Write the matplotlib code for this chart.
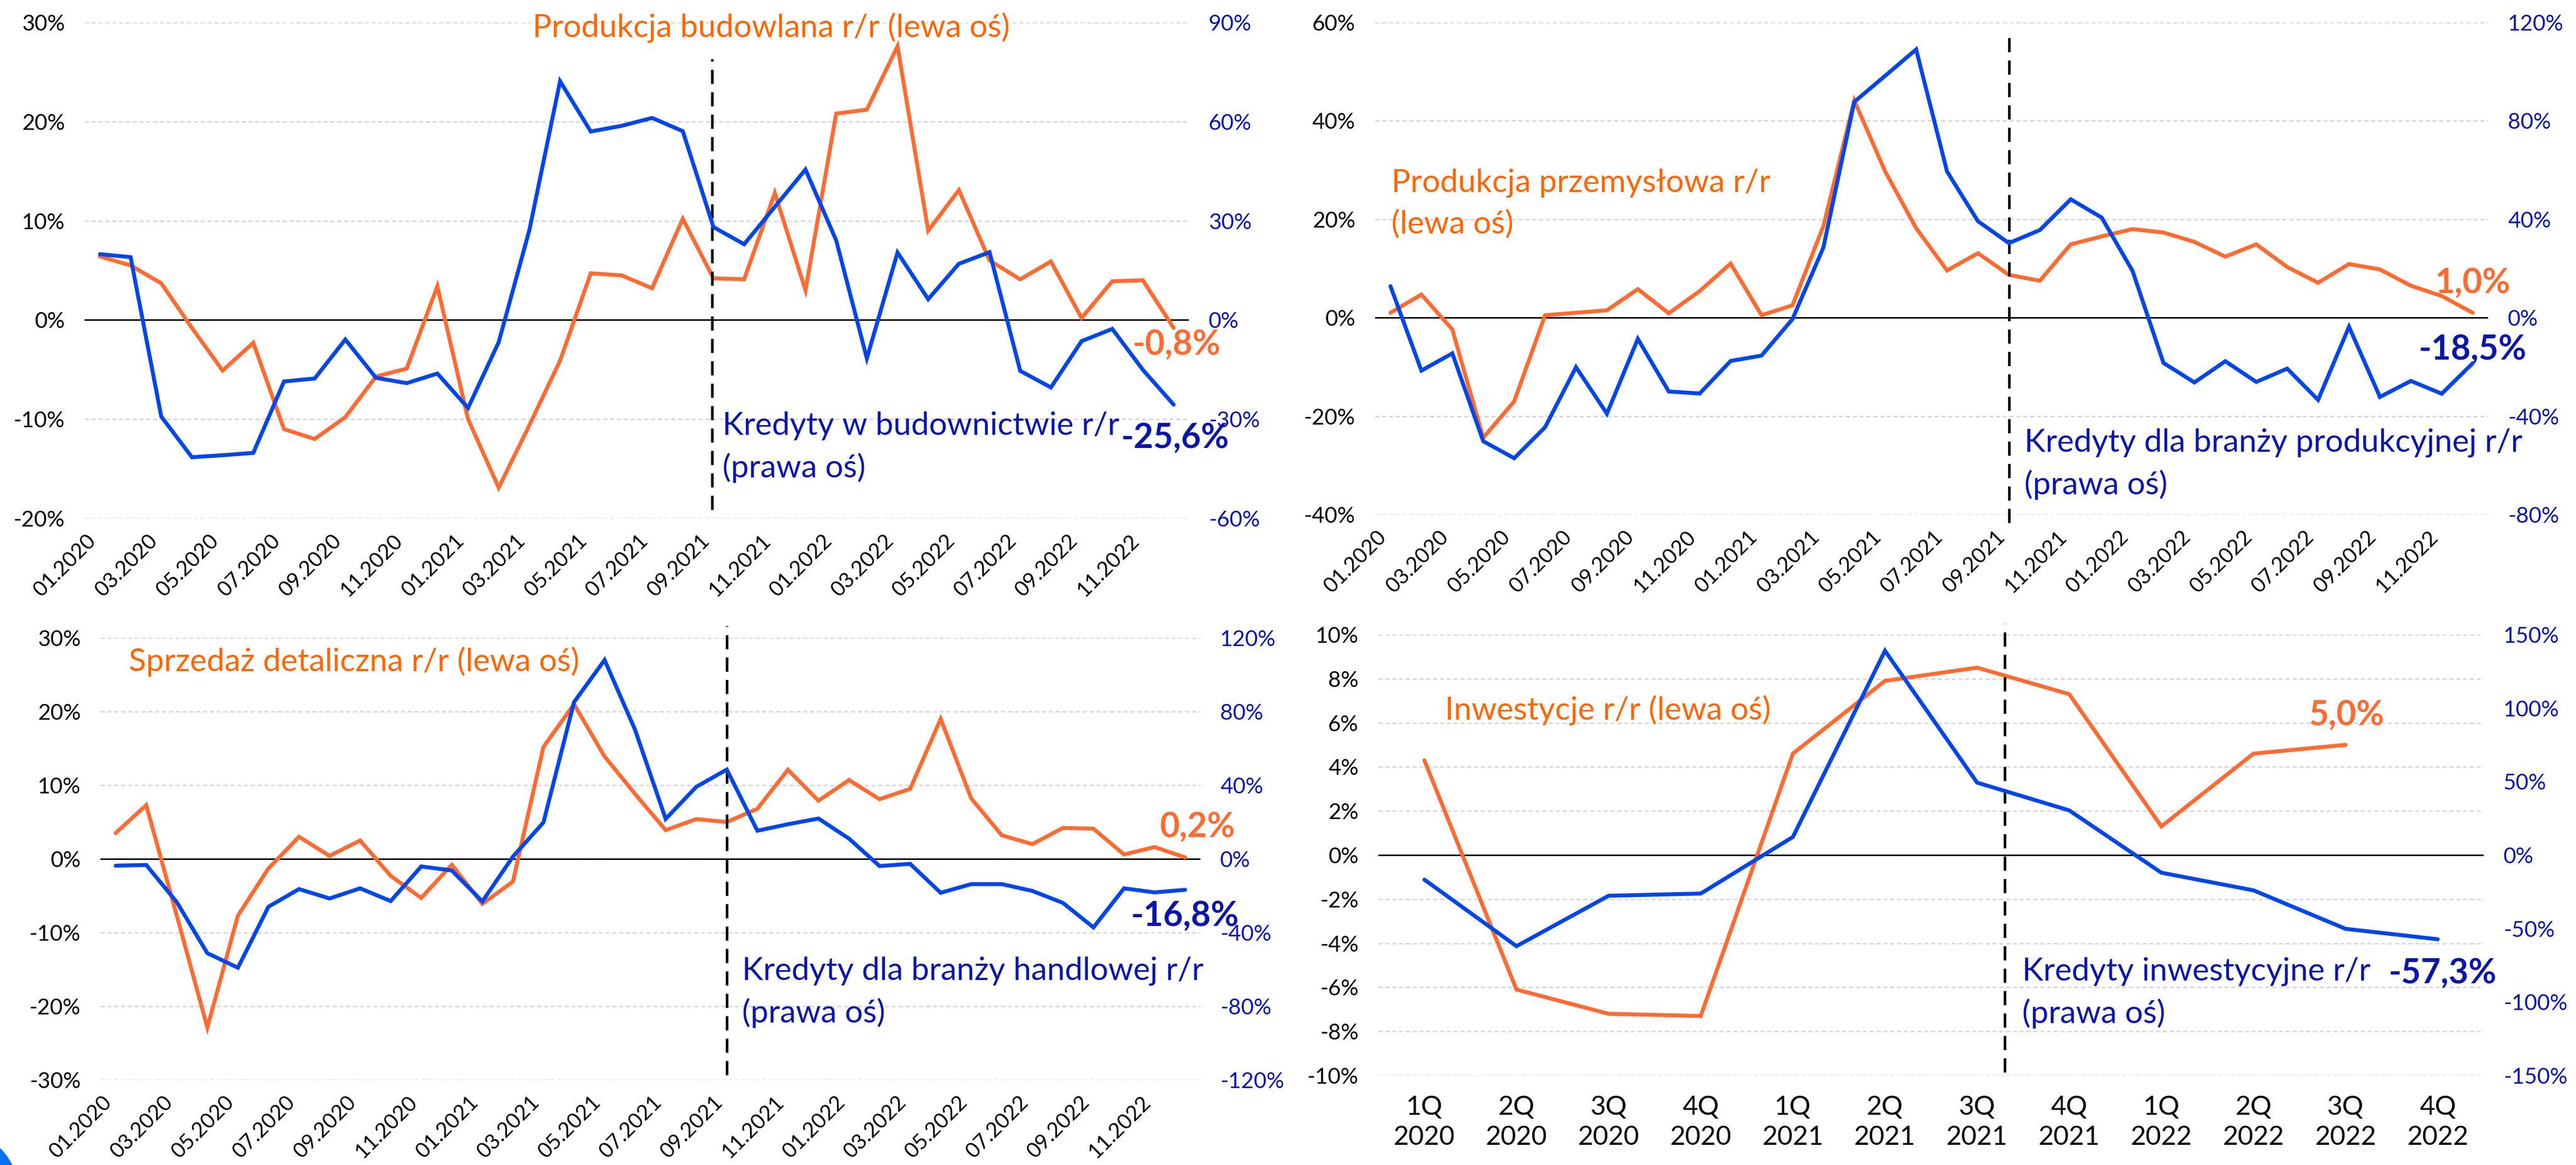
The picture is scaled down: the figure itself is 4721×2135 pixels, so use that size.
import numpy as np
import matplotlib
matplotlib.use("Agg")
import matplotlib.pyplot as plt
from matplotlib.patches import Ellipse

plt.rcParams['font.family'] = ['Lato', 'DejaVu Sans']

# ---------------- data ----------------
month_labels = [f"{m:02d}.{y}" for y in (2020, 2021, 2022) for m in range(1, 13)]
quarter_labels = ['1Q\n2020', '2Q\n2020', '3Q\n2020', '4Q\n2020',
                  '1Q\n2021', '2Q\n2021', '3Q\n2021', '4Q\n2021',
                  '1Q\n2022', '2Q\n2022', '3Q\n2022', '4Q\n2022']

constr_prod = [6.4, 5.5, 3.7, -0.8, -5.1, -2.3, -11.0, -12.0, -9.8, -5.7, -4.9, 3.4,
               -10.0, -16.9, -10.6, -4.1, 4.7, 4.5, 3.2, 10.2, 4.2, 4.1, 12.8, 3.0,
               20.8, 21.2, 27.6, 9.0, 13.1, 6.0, 4.1, 5.9, 0.2, 3.9, 4.0, -0.8]
constr_credit = [19.9, 19.0, -29.2, -41.5, -40.9, -40.2, -18.6, -17.7, -5.9, -17.5, -19.1, -16.2,
                 -26.6, -6.7, 27.2, 72.2, 57.0, 58.7, 61.1, 57.1, 28.1, 22.9, 34.2, 45.5,
                 24.1, -11.6, 20.4, 6.3, 17.0, 20.5, -15.4, -20.4, -6.4, -2.7, -15.1, -25.6]

ind_prod = [1.0, 4.7, -2.4, -24.4, -17.0, 0.5, 1.0, 1.5, 5.8, 0.9, 5.4, 11.0,
            0.5, 2.5, 18.6, 44.1, 29.7, 18.2, 9.6, 13.1, 8.7, 7.5, 14.9, 16.5,
            18.0, 17.3, 15.4, 12.4, 14.9, 10.3, 7.1, 10.9, 9.8, 6.5, 4.4, 1.0]
ind_credit = [12.8, -21.5, -14.5, -50.2, -57.1, -44.5, -20.1, -39.0, -8.6, -30.0, -30.8, -17.6,
              -15.4, -0.6, 28.5, 87.7, 98.3, 109.0, 59.4, 39.2, 30.3, 35.6, 48.1, 40.7,
              19.0, -18.4, -26.3, -17.7, -26.1, -20.7, -33.4, -3.7, -32.2, -25.7, -30.9, -18.5]

retail = [3.5, 7.3, -7.7, -22.9, -7.7, -1.3, 3.0, 0.4, 2.5, -2.3, -5.3, -0.8,
          -6.1, -3.1, 15.2, 21.0, 13.9, 8.8, 3.9, 5.4, 5.0, 6.8, 12.1, 7.9,
          10.7, 8.1, 9.5, 19.0, 8.2, 3.2, 2.0, 4.2, 4.1, 0.6, 1.6, 0.2]
trade_credit = [-3.7, -3.3, -23.5, -51.2, -59.1, -26.0, -16.4, -21.5, -16.0, -22.9, -4.1, -6.3,
                -23.1, 1.2, 19.8, 85.1, 108.0, 70.0, 21.7, 39.1, 48.5, 15.3, 18.8, 21.9,
                11.0, -3.9, -2.7, -18.4, -13.7, -13.7, -17.4, -23.9, -37.2, -16.0, -18.2, -16.8]

investment = [4.3, -6.1, -7.2, -7.3, 4.6, 7.9, 8.5, 7.3, 1.3, 4.6, 5.0, np.nan]
invest_credit = [-16.7, -62.0, -27.7, -26.2, 12.3, 139.0, 49.3, 30.4, -12.0, -24.0, -50.2, -57.3]

# ---------------- style ----------------
ORANGE = '#FF6B33'
ORANGE_TXT = '#FF6600'
BLUE = '#0046E8'
NAVY = '#0A16A8'
GRID = '#D4D4D4'
YTICK_FS = 14.5
XTICK_FS = 14

W, H = 4721, 2135
DPI = 200
fig = plt.figure(figsize=(W / DPI, H / DPI), dpi=DPI)
fig.patch.set_facecolor('white')


def rect(l, r, t, b):
    return [l / W, 1 - b / H, (r - l) / W, (b - t) / H]


def pct(vals):
    return [f"{v:.0f}%" for v in vals]


def panel(r, x, left, right, lt, rt, xlim, xticks, xlabels, rot, label_fs,
          vline, texts):
    ax = fig.add_axes(r)
    ax2 = ax.twinx()
    for a in (ax, ax2):
        for s in a.spines.values():
            s.set_visible(False)
        a.tick_params(length=0)
    ax.set_xlim(*xlim)
    ax.set_ylim(lt[0], lt[-1])
    ax.set_yticks(lt)
    ax.set_yticklabels(pct(lt), fontsize=YTICK_FS, color='black')
    ax.tick_params(axis='y', pad=13)
    ax2.set_ylim(rt[0], rt[-1])
    ax2.set_yticks(rt)
    ax2.set_yticklabels(pct(rt), fontsize=YTICK_FS, color=NAVY)
    ax2.tick_params(axis='y', pad=13)
    ax.set_xticks(xticks)
    if rot:
        ax.set_xticklabels(xlabels, rotation=45, ha='right', va='top',
                           fontsize=XTICK_FS)
        ax.tick_params(axis='x', pad=8)
    else:
        ax.set_xticklabels(xlabels, fontsize=label_fs, linespacing=1.3)
        ax.tick_params(axis='x', pad=13)
    ax.grid(axis='y', color=GRID, lw=0.9, ls=(0, (3, 2)))
    ax.set_axisbelow(True)
    ax.axhline(0, color='black', lw=1.0, zorder=1)
    ax.plot(x, left, color=ORANGE, lw=2.6, solid_capstyle='round',
            solid_joinstyle='miter', zorder=3)
    ax2.plot(x, right, color=BLUE, lw=2.6, solid_capstyle='round',
             solid_joinstyle='miter', zorder=3)
    vx, vy0, vy1 = vline
    ax.plot([vx, vx], [vy0, vy1], color='black', lw=1.7,
            ls=(0, (5.5, 3.2)), clip_on=False, zorder=4)
    for (tx, ty, s, kw) in texts:
        ax.text(tx, ty, s, **kw)
    return ax, ax2


months = np.arange(36)
quarters = np.arange(12)
mticks = np.arange(0, 36, 2)
mlabels = month_labels[::2]

big = dict(fontsize=21, va='center', ha='left', linespacing=1.5)
bold_o = dict(fontsize=22.5, fontweight='bold', color=ORANGE, ha='center', va='center')
bold_b = dict(fontsize=22.5, fontweight='bold', color=NAVY, ha='center', va='center')

# Panel 1: construction
panel(rect(155, 2179, 41, 950), months, constr_prod, constr_credit,
      [-20, -10, 0, 10, 20, 30], [-60, -30, 0, 30, 60, 90],
      (-0.5, 35.5), mticks, mlabels, True, XTICK_FS, (19.95, -19.1, 26.3),
      [(14.1, 29.5, 'Produkcja budowlana r/r (lewa oś)', dict(big, color=ORANGE_TXT)),
       (20.3, -12.8, 'Kredyty w budownictwie r/r\n(prawa oś)', dict(big, color=NAVY)),
       (35.1, -2.5, '-0,8%', bold_o),
       (35.05, -11.9, '-25,6%', bold_b)])

# Panel 2: industrial production
panel(rect(2520, 4560, 41, 943), months, ind_prod, ind_credit,
      [-40, -20, 0, 20, 40, 60], [-80, -40, 0, 40, 80, 120],
      (-0.5, 35.5), mticks, mlabels, True, XTICK_FS, (20, -41.7, 58.2),
      [(0.03, 23.2, 'Produkcja przemysłowa r/r\n(lewa oś)', dict(big, color=ORANGE_TXT)),
       (20.5, -29.7, 'Kredyty dla branży produkcyjnej r/r\n(prawa oś)', dict(big, color=NAVY)),
       (35.0, 7.0, '1,0%', bold_o),
       (35.0, -6.5, '-18,5%', bold_b)])

# Panel 3: retail
panel(rect(184, 2200, 1169, 1979), months, retail, trade_credit,
      [-30, -20, -10, 0, 10, 20, 30], [-120, -80, -40, 0, 40, 80, 120],
      (-0.5, 35.5), mticks, mlabels, True, XTICK_FS, (20, -29.3, 31.6),
      [(0.43, 26.8, 'Sprzedaż detaliczna r/r (lewa oś)', dict(big, color=ORANGE_TXT)),
       (20.5, -18.1, 'Kredyty dla branży handlowej r/r\n(prawa oś)', dict(big, color=NAVY)),
       (35.4, 4.3, '0,2%', bold_o),
       (35.0, -7.8, '-16,8%', bold_b)])

# Panel 4: investment
panel(rect(2526, 4552, 1163, 1971), quarters, investment, invest_credit,
      [-10, -8, -6, -4, -2, 0, 2, 4, 6, 8, 10], [-150, -100, -50, 0, 50, 100, 150],
      (-0.5, 11.5), quarters, quarter_labels, False, 17.5, (6.3, -9.85, 10.5),
      [(0.22, 6.57, 'Inwestycje r/r (lewa oś)', dict(big, color=ORANGE_TXT)),
       (6.49, -6.25, 'Kredyty inwestycyjne r/r\n(prawa oś)', dict(big, color=NAVY)),
       (10.01, 6.35, '5,0%', bold_o),
       (11.05, -5.36, '-57,3%', bold_b)])

# decorative logo fragment bottom-left
fig.patches.append(Ellipse((-71 / W, 1 - 2179 / H), 2 * 102 / W, 2 * 102 / H,
                           transform=fig.transFigure, color='#0A72F0', zorder=0))

fig.savefig('out.png', dpi=DPI, facecolor='white')
